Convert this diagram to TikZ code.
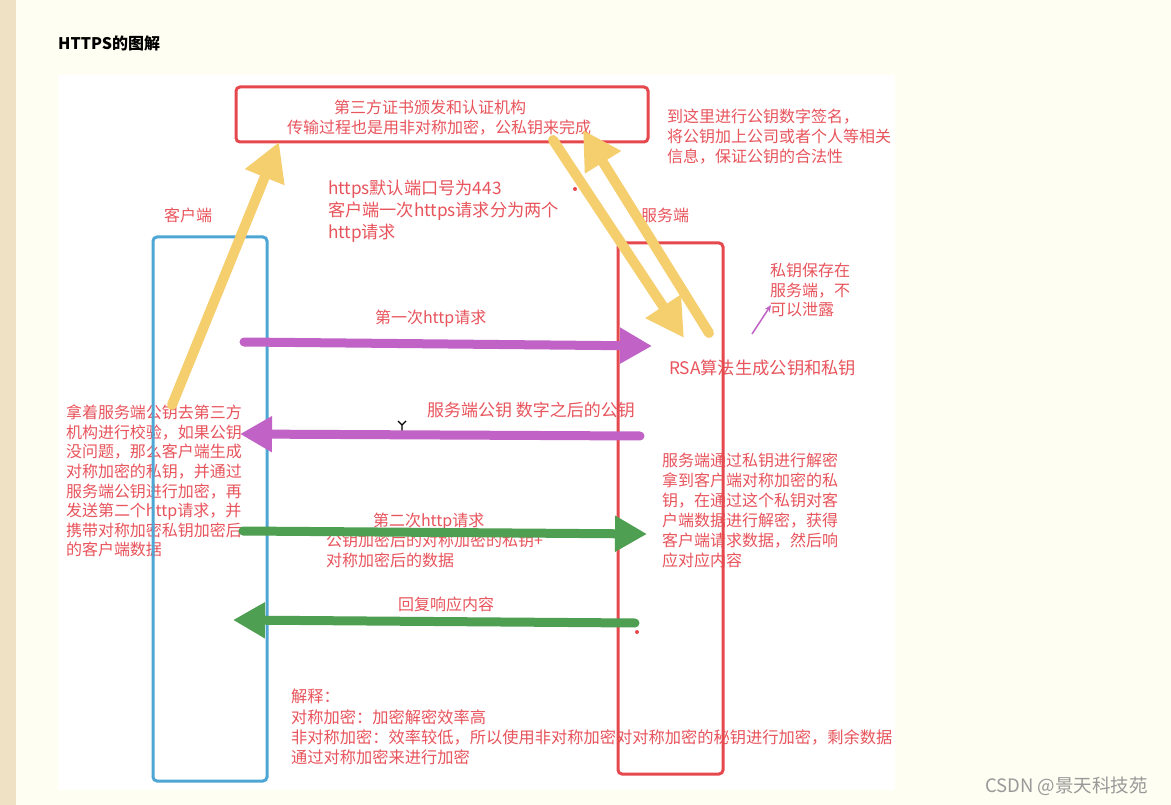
\documentclass[tikz,border=0pt]{standalone}
\usepackage{fontspec}
\setmainfont{Noto Sans CJK SC}
\newfontfamily\cjk{Noto Sans CJK SC}
\usetikzlibrary{arrows.meta}
\definecolor{bgcream}{HTML}{FEFEF2}
\definecolor{bgtan}{HTML}{EFE2C4}
\definecolor{txtred}{HTML}{E8545C}
\definecolor{boxred}{HTML}{E5484D}
\definecolor{boxblue}{HTML}{4DA6D4}
\definecolor{arryellow}{HTML}{F5CE6E}
\definecolor{arrpurple}{HTML}{C062C6}
\definecolor{arrgreen}{HTML}{4E9F52}
\definecolor{wmgray}{HTML}{999999}
\tikzset{
  lbl/.style={anchor=north west, inner sep=0pt, outer sep=0pt, text=txtred, align=left,
    font=\cjk\fontsize{16pt}{19.6pt}\selectfont},
  lblbig/.style={lbl, font=\cjk\fontsize{17.2pt}{22pt}\selectfont},
  frame/.style={line width=3pt, rounded corners=4pt},
  fatarrow/.style={line width=9pt, line cap=round, -{Triangle[length=32pt,width=34pt]}},
  yelarrow/.style={line width=10pt, line cap=round, draw=arryellow, -{Triangle[length=38pt,width=40pt]}},
}
\begin{document}
\begin{tikzpicture}[x=1pt,y=-1pt]
\useasboundingbox (0,0) rectangle (1171,805);
% backgrounds
\fill[bgcream] (0,0) rectangle (1171,805);
\fill[bgtan] (0,0) rectangle (16,805);
\fill[white] (58,75) rectangle (895,790);

% title
\node[anchor=west, inner sep=0pt, font=\cjk\bfseries\fontsize{16pt}{18pt}\selectfont] (title) at (58,43) {HTTPS的图解};

% texts
\node[lbl] (ca1) at (334,100) {第三方证书颁发和认证机构};
\node[lbl] (ca2) at (287,120) {传输过程也是用非对称加密，公私钥来完成};
\node[lbl, font=\cjk\fontsize{16pt}{19.8pt}\selectfont] (sign) at (667,109) {到这里进行公钥数字签名，\\将公钥加上公司或者个人等相关\\信息，保证公钥的合法性};
\node[lblbig] (port) at (328,180.5) {https默认端口号为443\\客户端一次https请求分为两个\\http请求};
\node[lbl] (client) at (164,208) {客户端};
\node[lbl] (server) at (641,208) {服务端};
\node[lbl] (privsave) at (770,263) {私钥保存在\\服务端，不\\可以泄露};
\node[lbl] (req1) at (375,310) {第一次http请求};
\node[lbl, font=\cjk\fontsize{17.3pt}{20pt}\selectfont] (rsa) at (669,359.5) {RSA算法生成公钥和私钥};
\node[lbl, font=\cjk\fontsize{17pt}{20pt}\selectfont] (pubkey) at (427,402.5) {服务端公钥 数字之后的公钥};
\node[lbl] (clientnote) at (66,405) {拿着服务端公钥去第三方\\机构进行校验，如果公钥\\没问题，那么客户端生成\\对称加密的私钥，并通过\\服务端公钥进行加密，再\\发送第二个http请求，并\\携带对称加密私钥加密后\\的客户端数据};
\node[lbl, font=\cjk\fontsize{16pt}{20pt}\selectfont] (servernote) at (662,453) {服务端通过私钥进行解密\\拿到客户端对称加密的私\\钥，在通过这个私钥对客\\户端数据进行解密，获得\\客户端请求数据，然后响\\应对应内容};
\node[lbl] (req2) at (373,513) {第二次http请求};
\node[lbl, font=\cjk\fontsize{16pt}{20pt}\selectfont] (req2b) at (326,533) {公钥加密后的对称加密的私钥+\\对称加密后的数据};
\node[lbl] (resp) at (398,597) {回复响应内容};
\node[lbl, font=\cjk\fontsize{16.25pt}{20.4pt}\selectfont] (explain) at (291,689) {解释：\\对称加密：加密解密效率高\\非对称加密：效率较低，所以使用非对称加密对对称加密的秘钥进行加密，剩余数据\\通过对称加密来进行加密};
\node[anchor=west, inner sep=0pt, text=wmgray, font=\cjk\fontsize{18.5pt}{20pt}\selectfont] (wm) at (985,786) {CSDN @景天科技苑};

% frames
\draw[frame, draw=boxred] (236,87) rectangle (648,142);
\draw[frame, draw=boxblue] (153,237) rectangle (267,781);
\draw[frame, draw=boxred] (618,243) rectangle (723,774);

% dots and cursor
\fill[boxred] (575,189) circle (2);
\fill[boxred] (637,632) circle (2);
\draw[line width=1.2pt] (398,421) -- (402,425) -- (406,421) (402,425) -- (402,431);

% arrow coordinates
\coordinate (y1s) at (172,405); \coordinate (y1e) at (279,142);
\coordinate (y2s) at (553,140); \coordinate (y2e) at (684,338);
\coordinate (y3s) at (709,333); \coordinate (y3e) at (583,130);
\coordinate (p1s) at (244,342); \coordinate (p1e) at (652,346);
\coordinate (p2s) at (640,436); \coordinate (p2e) at (240,434);
\coordinate (g1s) at (243,531); \coordinate (g1e) at (647,534);
\coordinate (g2s) at (635,623); \coordinate (g2e) at (233,620);
\coordinate (ts) at (752,334); \coordinate (te) at (771,305);

% arrows
\draw[yelarrow] (y1s) -- (y1e);
\draw[yelarrow] (y2s) -- (y2e);
\draw[yelarrow] (y3s) -- (y3e);
\draw[fatarrow, draw=arrpurple] (p1s) -- (p1e);
\draw[fatarrow, draw=arrpurple] (p2s) -- (p2e);
\draw[fatarrow, draw=arrgreen] (g1s) -- (g1e);
\draw[fatarrow, draw=arrgreen] (g2s) -- (g2e);
\draw[line width=1.5pt, draw=arrpurple, -{Stealth[length=7pt,width=6pt]}] (ts) -- (te);
\end{tikzpicture}
\end{document}
